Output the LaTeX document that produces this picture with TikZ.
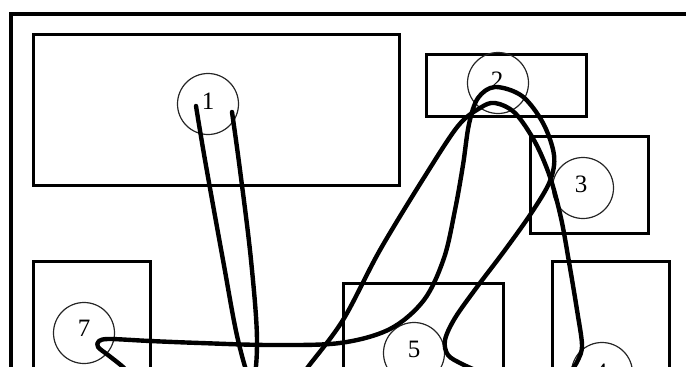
\documentclass[tikz,border=0pt]{standalone}
\usepackage{fontspec}
\setmainfont{Liberation Serif}
\begin{document}
\begin{tikzpicture}[x=1pt,y=-1pt,
  frame/.style={draw=black, line width=3.2pt},
  zone/.style={draw=black, line width=2.8pt, inner sep=0pt, anchor=north west},
  marker/.style={circle, draw=black!85, line width=1.2pt, minimum size=61pt, inner sep=0pt},
  lbl/.style={font=\fontsize{25}{27}\selectfont, inner sep=0pt},
  curve/.style={draw=black, line width=4.4pt, line cap=round, line join=round}]
\useasboundingbox (0,0) rectangle (686,367);
\clip (0,0) rectangle (686,367);
\draw[frame] (11,14) rectangle (720,420);
% zones
\node[zone, minimum width=366pt, minimum height=151pt] (z1) at (32,33) {};
\node[zone, minimum width=160pt, minimum height=62pt] (z2) at (425,53) {};
\node[zone, minimum width=118pt, minimum height=97pt] (z3) at (529,135) {};
\node[zone, minimum width=117pt, minimum height=140pt] (z7) at (32,260) {};
\node[zone, minimum width=160pt, minimum height=120pt] (z5) at (342,282) {};
\node[zone, minimum width=117pt, minimum height=140pt] (z4) at (551,260) {};
% markers
\node[marker] (c1) at (208,104) {};
\node[marker] (c2) at (498,83) {};
\node[marker] (c3) at (583,188) {};
\node[marker] (c7) at (84,333) {};
\node[marker] (c5) at (414,353) {};
\node[marker] (c4) at (602,373) {};
\node[lbl] (l1) at (208,101) {1};
\node[lbl] (l2) at (497,80) {2};
\node[lbl] (l3) at (581,184) {3};
\node[lbl] (l7) at (84,328) {7};
\node[lbl] (l5) at (414,349) {5};
\node[lbl] (l4) at (601,372) {4};
% routes
\draw[curve] plot[smooth, tension=0.6] coordinates {(196,106) (205,160) (223,260) (238,340) (252,382) (257,340) (251,260) (240,170) (232,112)};
\draw[curve] plot[smooth, tension=0.55] coordinates {(135,380) (123,367) (108,355) (98,347) (99,341) (110,339) (150,341) (200,343) (270,345) (340,343) (390,329) (424,300) (444,258) (455,210) (463,165) (469,124) (478,98) (495,87) (522,96) (543,123) (554,155) (550,181) (532,212) (505,250) (477,287) (455,318) (445,340) (448,355) (462,364) (482,373)};
\draw[curve] plot[smooth, tension=0.55] coordinates {(298,382) (308,367) (343,320) (380,250) (425,176) (458,126) (480,108) (495,103) (515,113) (535,142) (550,177) (561,218) (569,262) (577,310) (582,345) (578,360) (572,370)};
\end{tikzpicture}
\end{document}
